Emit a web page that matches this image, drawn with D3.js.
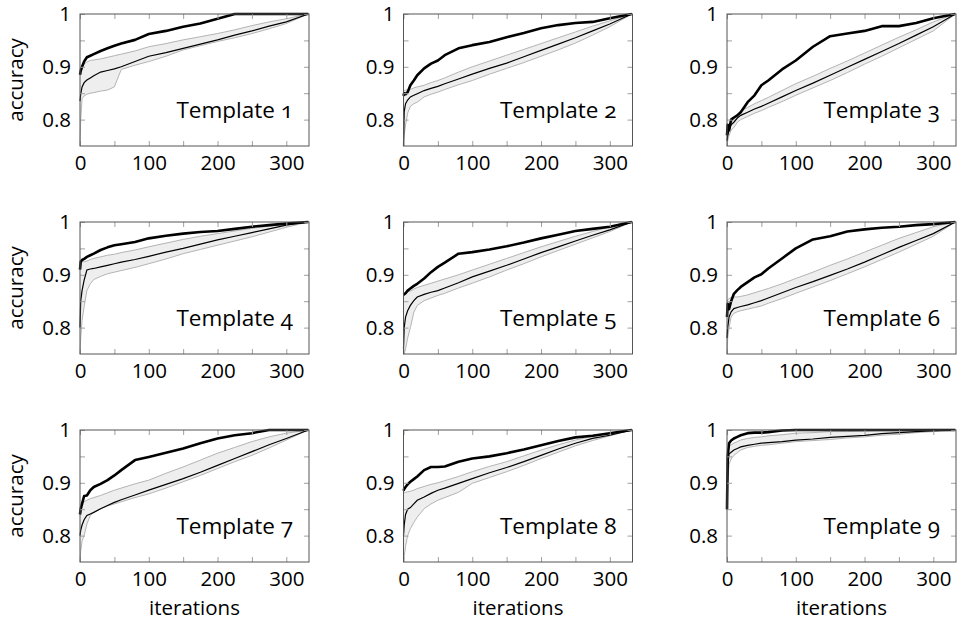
<!DOCTYPE html>
<html>
<head>
<meta charset="utf-8">
<script src="https://cdn.jsdelivr.net/npm/d3@7"></script>
<style>
  body { margin: 0; background: #fff; }
  text { font-family: "Open Sans", "Noto Sans", sans-serif; fill: #000; }
</style>
</head>
<body>
<svg id="chart"></svg>
<script>
// iteration steps at which accuracy was read
const iterations = [0, 1, 3, 6, 10, 15, 20, 30, 40, 50, 60, 80, 100, 125, 150, 175, 200, 225, 250, 275, 300, 332];

const templates = ["Template 1", "Template 2", "Template 3", "Template 4", "Template 5",
                   "Template 6", "Template 7", "Template 8", "Template 9"];

// thick black line
const bestAcc = [
  [0.885,0.892,0.900,0.910,0.918,0.921,0.924,0.930,0.935,0.940,0.944,0.951,0.962,0.968,0.976,0.982,0.991,1.0,1.0,1.0,1.0,1.0],
  [0.845,0.850,0.848,0.852,0.865,0.874,0.884,0.897,0.906,0.912,0.922,0.935,0.941,0.947,0.956,0.964,0.973,0.979,0.983,0.985,0.992,1.0],
  [0.770,0.790,0.780,0.800,0.804,0.808,0.814,0.833,0.846,0.865,0.874,0.895,0.912,0.938,0.958,0.963,0.968,0.977,0.977,0.983,0.992,1.0],
  [0.910,0.925,0.928,0.930,0.934,0.937,0.940,0.947,0.952,0.956,0.958,0.962,0.969,0.974,0.978,0.981,0.983,0.987,0.991,0.994,0.997,1.0],
  [0.862,0.863,0.865,0.870,0.874,0.879,0.883,0.893,0.905,0.915,0.923,0.940,0.943,0.948,0.954,0.961,0.969,0.976,0.983,0.987,0.991,1.0],
  [0.820,0.845,0.835,0.850,0.864,0.871,0.877,0.886,0.895,0.901,0.912,0.931,0.950,0.967,0.973,0.982,0.986,0.989,0.991,0.994,0.996,1.0],
  [0.840,0.850,0.860,0.875,0.876,0.886,0.892,0.898,0.905,0.914,0.924,0.943,0.949,0.957,0.965,0.975,0.984,0.990,0.994,1.0,1.0,1.0],
  [0.885,0.888,0.892,0.897,0.902,0.907,0.912,0.924,0.930,0.930,0.931,0.940,0.946,0.950,0.956,0.963,0.971,0.979,0.986,0.989,0.994,1.0],
  [0.850,0.950,0.975,0.980,0.984,0.987,0.990,0.994,0.995,0.995,0.996,0.999,1.0,1.0,1.0,1.0,1.0,1.0,1.0,1.0,1.0,1.0]
];

// upper edge of grey band
const maxAcc = [
  [0.895,0.899,0.902,0.905,0.909,0.912,0.913,0.915,0.918,0.921,0.924,0.930,0.938,0.944,0.951,0.957,0.963,0.970,0.978,0.985,0.991,1.0],
  [0.855,0.855,0.856,0.856,0.857,0.860,0.862,0.865,0.870,0.874,0.879,0.890,0.900,0.911,0.922,0.933,0.944,0.955,0.966,0.977,0.987,1.0],
  [0.780,0.785,0.790,0.795,0.800,0.810,0.817,0.823,0.830,0.836,0.842,0.855,0.868,0.882,0.897,0.911,0.926,0.941,0.956,0.970,0.985,1.0],
  [0.920,0.922,0.924,0.925,0.926,0.929,0.931,0.934,0.937,0.939,0.942,0.947,0.953,0.960,0.967,0.973,0.978,0.983,0.988,0.992,0.996,1.0],
  [0.865,0.866,0.867,0.868,0.869,0.873,0.876,0.880,0.884,0.888,0.892,0.900,0.909,0.920,0.931,0.942,0.953,0.963,0.973,0.982,0.991,1.0],
  [0.850,0.853,0.855,0.857,0.858,0.858,0.859,0.862,0.866,0.870,0.874,0.883,0.893,0.905,0.918,0.930,0.943,0.956,0.969,0.980,0.991,1.0],
  [0.850,0.855,0.860,0.864,0.867,0.870,0.872,0.876,0.881,0.886,0.890,0.898,0.905,0.918,0.930,0.943,0.956,0.967,0.978,0.987,0.994,1.0],
  [0.880,0.881,0.882,0.883,0.884,0.886,0.889,0.893,0.897,0.900,0.904,0.912,0.921,0.931,0.940,0.951,0.962,0.972,0.981,0.988,0.994,1.0],
  [0.960,0.965,0.970,0.972,0.975,0.978,0.981,0.984,0.986,0.987,0.989,0.991,0.994,0.995,0.997,0.997,0.998,0.999,0.999,1.0,1.0,1.0]
];

// thin black line
const meanAcc = [
  [0.835,0.848,0.862,0.870,0.875,0.879,0.883,0.890,0.893,0.896,0.900,0.910,0.920,0.927,0.935,0.943,0.951,0.960,0.968,0.977,0.985,1.0],
  [0.750,0.815,0.830,0.837,0.843,0.846,0.849,0.855,0.859,0.863,0.868,0.877,0.886,0.897,0.907,0.919,0.931,0.943,0.955,0.968,0.981,1.0],
  [0.760,0.770,0.780,0.790,0.795,0.803,0.808,0.814,0.820,0.825,0.831,0.843,0.855,0.869,0.884,0.899,0.914,0.929,0.944,0.960,0.976,1.0],
  [0.800,0.850,0.870,0.890,0.909,0.911,0.912,0.915,0.918,0.921,0.924,0.929,0.935,0.943,0.950,0.958,0.966,0.973,0.980,0.987,0.994,1.0],
  [0.760,0.800,0.820,0.832,0.842,0.851,0.858,0.863,0.867,0.870,0.875,0.885,0.896,0.907,0.918,0.930,0.942,0.953,0.964,0.975,0.985,1.0],
  [0.780,0.800,0.820,0.830,0.836,0.838,0.840,0.843,0.847,0.851,0.856,0.866,0.876,0.887,0.899,0.911,0.924,0.938,0.952,0.965,0.978,1.0],
  [0.800,0.810,0.820,0.830,0.838,0.841,0.844,0.851,0.857,0.863,0.868,0.877,0.886,0.897,0.908,0.920,0.933,0.946,0.959,0.972,0.984,1.0],
  [0.800,0.820,0.840,0.850,0.853,0.860,0.867,0.873,0.880,0.886,0.890,0.899,0.908,0.919,0.929,0.940,0.952,0.964,0.975,0.984,0.990,1.0],
  [0.850,0.930,0.955,0.958,0.962,0.965,0.968,0.971,0.973,0.975,0.976,0.978,0.981,0.983,0.986,0.988,0.990,0.993,0.995,0.997,0.999,1.0]
];

// lower edge of grey band
const minAcc = [
  [0.750,0.800,0.840,0.845,0.848,0.850,0.851,0.854,0.856,0.862,0.895,0.903,0.910,0.920,0.932,0.940,0.948,0.955,0.963,0.972,0.982,1.0],
  [0.750,0.770,0.790,0.812,0.825,0.830,0.833,0.843,0.848,0.852,0.857,0.866,0.874,0.886,0.897,0.908,0.920,0.932,0.945,0.960,0.976,1.0],
  [0.750,0.760,0.770,0.780,0.785,0.795,0.800,0.806,0.812,0.817,0.823,0.834,0.846,0.860,0.874,0.889,0.905,0.920,0.936,0.952,0.968,1.0],
  [0.750,0.780,0.813,0.840,0.870,0.883,0.891,0.897,0.902,0.905,0.908,0.914,0.921,0.930,0.940,0.948,0.956,0.964,0.972,0.981,0.990,1.0],
  [0.750,0.750,0.760,0.780,0.800,0.829,0.842,0.851,0.856,0.861,0.865,0.875,0.884,0.896,0.909,0.921,0.934,0.946,0.958,0.970,0.982,1.0],
  [0.750,0.780,0.800,0.820,0.827,0.830,0.832,0.835,0.838,0.841,0.846,0.855,0.865,0.877,0.889,0.902,0.915,0.929,0.943,0.958,0.973,1.0],
  [0.750,0.770,0.790,0.800,0.822,0.838,0.844,0.851,0.856,0.860,0.864,0.872,0.879,0.890,0.902,0.914,0.927,0.940,0.952,0.966,0.981,1.0],
  [0.750,0.760,0.780,0.800,0.813,0.825,0.835,0.851,0.860,0.867,0.872,0.882,0.899,0.910,0.921,0.933,0.946,0.958,0.970,0.980,0.989,1.0],
  [0.850,0.900,0.935,0.945,0.952,0.957,0.962,0.967,0.969,0.971,0.972,0.975,0.978,0.980,0.982,0.985,0.987,0.990,0.992,0.995,0.997,1.0]
];

const xTicks = [0, 50, 100, 150, 200, 250, 300];
const xTickLabels = {0: "0", 100: "100", 200: "200", 300: "300"};
const yTicks = [0.8, 0.85, 0.9, 0.95, 1];
const yTickLabels = {0.8: "0.8", 0.9: "0.9", 1: "1"};

function drawChart() {
    let W = 961, H = 623;
    let pw = 229, ph = 132;
    let colX = [80, 403.5, 727];
    let rowY = [14, 222, 430];

    let svg = d3.select("#chart")
        .attr("width", W)
        .attr("height", H);

    let x = d3.scaleLinear().domain([0, 333]).range([0, pw]);
    let y = d3.scaleLinear().domain([0.75, 1]).range([ph, 0]);

    let line = d3.line()
        .x((d, i) => x(iterations[i]))
        .y(d => y(d));

    templates.forEach((name, k) => {
        let col = k % 3, row = Math.floor(k / 3);
        let g = svg.append("g")
            .attr("transform", `translate(${colX[col]},${rowY[row]})`);

        let band = iterations.map((v, i) => ({x: v, lo: minAcc[k][i], hi: maxAcc[k][i]}));
        let area = d3.area()
            .x(d => x(d.x))
            .y0(d => y(d.lo))
            .y1(d => y(d.hi));

        g.append("path")
            .attr("d", area(band))
            .attr("fill", "#eeeeee");

        [minAcc[k], maxAcc[k]].forEach(s => {
            g.append("path")
                .attr("d", line(s))
                .attr("fill", "none")
                .attr("stroke", "#b4b4b4")
                .attr("stroke-width", 1);
        });

        g.append("path")
            .attr("d", line(meanAcc[k]))
            .attr("fill", "none")
            .attr("stroke", "#000")
            .attr("stroke-width", 1.2);

        g.append("path")
            .attr("d", line(bestAcc[k]))
            .attr("fill", "none")
            .attr("stroke", "#000")
            .attr("stroke-width", 2.6)
            .attr("stroke-linejoin", "round");

        // inward ticks on all four sides
        let bottom = g.append("g")
            .attr("transform", `translate(0,${ph})`)
            .call(d3.axisBottom(x).tickValues(xTicks).tickSize(-5).tickPadding(9)
                .tickFormat(d => xTickLabels[d] || ""));
        let top = g.append("g")
            .call(d3.axisTop(x).tickValues(xTicks).tickSize(-5).tickFormat(""));
        let left = g.append("g")
            .call(d3.axisLeft(y).tickValues(yTicks).tickSize(-5).tickPadding(9)
                .tickFormat(d => yTickLabels[d] || ""));
        let right = g.append("g")
            .attr("transform", `translate(${pw},0)`)
            .call(d3.axisRight(y).tickValues(yTicks).tickSize(-5).tickFormat(""));

        [bottom, top, left, right].forEach(a => {
            a.select(".domain").remove();
            a.selectAll(".tick line").attr("stroke", "#a0a0a0");
            a.selectAll(".tick text")
                .attr("font-size", 20.5)
                .attr("font-family", null)
                .attr("fill", "#000");
        });

        g.append("rect")
            .attr("width", pw)
            .attr("height", ph)
            .attr("fill", "none")
            .attr("stroke", "#555")
            .attr("stroke-width", 1);

        g.append("text")
            .attr("x", pw - 16)
            .attr("y", ph - 28)
            .attr("text-anchor", "end")
            .attr("font-size", 22.5)
            .style("font-variant-numeric", "oldstyle-nums")
            .text(name);

        if (col === 0) {
            g.append("text")
                .attr("transform", `translate(${23 - colX[0]},${ph / 2}) rotate(-90)`)
                .attr("text-anchor", "middle")
                .attr("font-size", 20.5)
                .text("accuracy");
        }
        if (row === 2) {
            g.append("text")
                .attr("x", pw / 2)
                .attr("y", ph + 53)
                .attr("text-anchor", "middle")
                .attr("font-size", 20.5)
                .text("iterations");
        }
    });
}

window.onload = function() {
    drawChart();
};
</script>
</body>
</html>
